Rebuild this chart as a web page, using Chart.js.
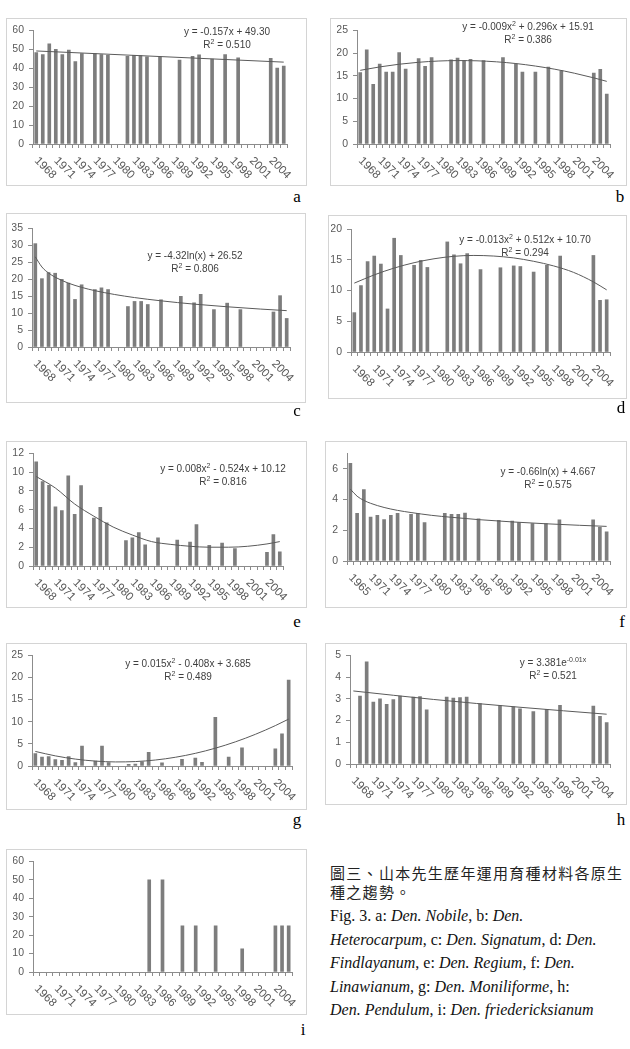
<!DOCTYPE html>
<html>
<head>
<meta charset="utf-8">
<script src="https://cdn.jsdelivr.net/npm/chart.js@4.4.1/dist/chart.umd.min.js"></script>
<style>
body { margin:0; background:#fff; width:630px; height:1049px; position:relative; overflow:hidden; font-family:"Liberation Sans", Arial, sans-serif; }
.box { position:absolute; border:1px solid #d4d4d4; box-sizing:border-box; }
.box canvas { position:absolute; left:0; top:0; }
.eq { position:absolute; font-size:10px; color:#404040; white-space:nowrap; transform:translate(-50%,-50%); }
.eq sup { font-size:7px; }
.lbl { position:absolute; font-family:"Liberation Serif", serif; font-size:17px; transform:translate(-50%,-50%); }
.zh { position:absolute; left:330px; top:863px; font-family:"Noto Sans CJK TC", sans-serif; font-size:15px; letter-spacing:1.3px; line-height:19px; color:#222; white-space:nowrap; }
.en { position:absolute; left:330px; top:904px; font-family:"Liberation Serif", serif; font-size:16px; line-height:23.5px; color:#111; white-space:nowrap; }
</style>
</head>
<body>
<div class="zh">圖三、山本先生歷年運用育種材料各原生<br>種之趨勢。</div>
<div class="en">Fig. 3. a: <i>Den. Nobile</i>, b: <i>Den.</i><br><i>Heterocarpum</i>, c: <i>Den. Signatum</i>, d: <i>Den.</i><br><i>Findlayanum</i>, e: <i>Den. Regium</i>, f: <i>Den.</i><br><i>Linawianum</i>, g: <i>Den. Moniliforme</i>, h:<br><i>Den. Pendulum</i>, i: <i>Den. friedericksianum</i></div>
<script>
// years on the x axis, one bar slot per year
const categories = ['1968','1969','1970','1971','1972','1973','1974','1975','1976','1977',
  '1978','1979','1980','1981','1982','1983','1984','1985','1986','1987',
  '1988','1989','1990','1991','1992','1993','1994','1995','1996','1997',
  '1998','1999','2000','2001','2002','2003','2004','2005','2006'];
// every third year gets a label
const tickLabels = ['1968','1971','1974','1977','1980','1983','1986','1989','1992','1995','1998','2001','2004'];
const tickLabelsF = ['1965','1971','1974','1977','1980','1983','1986','1989','1992','1995','1998','2001','2004'];

// bar values
const nobile = [48.3,47.2,52.8,50.0,47.2,49.5,43.5,47.7,null,47.7,47.2,46.8,null,null,46.2,46.8,46.7,46.0,null,46.0,null,null,44.3,null,46.3,47.0,null,44.8,null,47.2,null,45.5,null,null,null,null,45.2,40.1,41.1];
const heterocarpum = [15.7,20.7,13.1,17.6,15.8,15.8,20.1,16.5,null,18.8,17.1,19.0,null,null,18.5,18.9,18.35,18.6,null,18.35,null,null,19.0,null,17.6,15.8,null,15.8,null,16.9,null,16.1,null,null,null,null,15.6,16.4,11.0];
const signatum = [30.4,20.1,21.9,21.7,19.9,18.8,14.0,18.3,null,16.9,17.4,16.9,null,null,11.9,13.4,13.4,12.5,null,13.9,null,null,14.9,null,13.0,15.5,null,11.0,null,12.9,null,11.0,null,null,null,null,10.3,15.1,8.4];
const findlayanum = [6.4,10.8,14.7,15.6,14.3,7.0,18.5,15.7,null,14.1,14.9,13.75,null,null,17.9,15.8,14.35,16.0,null,13.4,null,null,13.7,null,14.0,13.9,null,13.0,null,14.1,null,15.6,null,null,null,null,15.7,8.4,8.5];
const regium = [11.1,9.0,8.6,6.3,5.9,9.6,5.5,8.55,null,5.1,6.25,4.6,null,null,2.7,3.0,3.55,2.25,null,3.0,null,null,2.75,null,2.55,4.4,null,2.2,null,2.45,null,1.85,null,null,null,null,1.45,3.35,1.5];
const linawianum = [6.35,3.1,4.65,2.85,2.97,2.7,2.97,3.1,null,3.04,3.1,2.5,null,null,3.1,3.04,3.04,3.12,null,2.74,null,null,2.65,null,2.6,2.5,null,2.44,null,2.44,null,2.67,null,null,null,null,2.67,2.19,1.9];
const moniliforme = [2.8,2.0,2.1,1.45,1.3,2.15,0.8,4.5,null,1.1,4.5,0.8,null,null,0.35,0.45,0.95,3.1,null,0.7,null,null,1.5,null,1.8,0.85,null,11.0,null,2.0,null,4.1,null,null,null,null,3.9,7.25,19.4];
const pendulum = [null,3.12,4.7,2.85,3.0,2.75,2.96,3.12,null,3.08,3.1,2.49,null,null,3.08,3.03,3.05,3.08,null,2.78,null,null,2.69,null,2.63,2.54,null,2.41,null,2.51,null,2.7,null,null,null,null,2.66,2.19,1.9];
const friedericksianum = [null,null,null,null,null,null,null,null,null,null,null,null,null,null,null,null,null,50,null,50,null,null,25,null,25,null,null,25,null,null,null,12.5,null,null,null,null,25,25,25];

// trend line values (gaps are joined)
const trendA = [49.1,null,null,null,null,null,null,null,null,null,null,null,null,null,null,null,null,null,null,null,null,null,null,null,null,null,null,null,null,null,null,null,null,null,null,null,null,null,43.2];
const trendB = [16.2,null,null,16.95,null,null,17.54,null,null,17.97,null,null,18.24,null,null,18.34,null,null,18.29,null,null,18.07,null,null,17.69,null,null,17.14,null,null,16.44,null,null,15.57,null,null,14.54,null,13.77];
const trendC = [26.52,23.53,21.77,20.53,null,18.78,null,17.54,null,16.57,null,null,15.44,null,null,14.54,null,null,null,13.58,null,null,null,null,12.61,null,null,null,null,11.83,null,null,null,null,11.16,null,null,null,10.69];
const trendD = [11.2,null,null,12.54,null,null,13.65,null,null,14.52,null,null,15.16,null,null,15.56,null,null,15.7,null,null,15.6,null,null,15.3,null,null,14.75,null,null,14.0,null,null,12.95,null,null,11.4,null,10.1];
const trendE = [9.53,null,null,8.3,null,null,6.6,null,null,5.3,null,null,4.15,null,null,3.3,null,null,2.6,null,null,2.3,null,null,2.1,null,null,2.0,null,null,2.0,null,null,2.1,null,null,2.35,null,2.6];
const trendF = [4.67,4.21,3.94,3.75,null,3.48,null,3.29,null,3.15,null,null,2.97,null,null,2.84,null,null,null,2.69,null,null,null,null,2.54,null,null,null,null,2.42,null,null,null,null,2.32,null,null,null,2.25];
const trendG = [3.29,null,null,2.29,null,null,1.56,null,null,1.11,null,null,0.92,null,null,1.0,null,null,1.35,null,null,1.97,null,null,2.86,null,null,4.02,null,null,5.45,null,null,7.15,null,null,9.12,null,10.59];
const trendH = [3.36,null,null,null,null,null,null,null,null,null,null,null,2.97,null,null,null,null,null,null,null,null,null,null,null,null,2.61,null,null,null,null,null,null,null,null,null,null,null,null,2.29];

const panels = [
  { id:'a', values:nobile, trend:trendA, max:60, step:10, ticks:tickLabels, eq:['y = -0.157x + 49.30','R<sup>2</sup> = 0.510'] },
  { id:'b', values:heterocarpum, trend:trendB, max:25, step:5, ticks:tickLabels, eq:['y = -0.009x<sup>2</sup> + 0.296x + 15.91','R<sup>2</sup> = 0.386'] },
  { id:'c', values:signatum, trend:trendC, max:35, step:5, ticks:tickLabels, eq:['y = -4.32ln(x) + 26.52','R<sup>2</sup> = 0.806'] },
  { id:'d', values:findlayanum, trend:trendD, max:20, step:5, ticks:tickLabels, eq:['y = -0.013x<sup>2</sup> + 0.512x + 10.70','R<sup>2</sup> = 0.294'] },
  { id:'e', values:regium, trend:trendE, max:12, step:2, ticks:tickLabels, eq:['y = 0.008x<sup>2</sup> - 0.524x + 10.12','R<sup>2</sup> = 0.816'] },
  { id:'f', values:linawianum, trend:trendF, max:7, step:1, ticks:tickLabelsF, eq:['y = -0.66ln(x) + 4.667','R<sup>2</sup> = 0.575'] },
  { id:'g', values:moniliforme, trend:trendG, max:25, step:5, ticks:tickLabels, eq:['y = 0.015x<sup>2</sup> - 0.408x + 3.685','R<sup>2</sup> = 0.489'] },
  { id:'h', values:pendulum, trend:trendH, max:5, step:1, ticks:tickLabels, eq:['y = 3.381e<sup>-0.01x</sup>','R<sup>2</sup> = 0.521'] },
  { id:'i', values:friedericksianum, trend:null, max:60, step:10, ticks:tickLabels, eq:null }
];

// page layout: box [left, top, width, height], plot area inside box [l, t, r, b],
// equation centre, panel letter centre
const layout = {
  a: { box:[6,18,301,168],  plot:[27,6,281,126],  eq:[227,31],  letter:[297,197] },
  b: { box:[330,18,297,168], plot:[27,7,280,126], eq:[528,26],  letter:[620,197] },
  c: { box:[6,213,300,190], plot:[26,15,284,134], eq:[195,255], letter:[297,411] },
  d: { box:[328,215,299,184], plot:[23,14,282,137], eq:[525,239], letter:[621,408] },
  e: { box:[6,441,301,167], plot:[27,7,277,125],  eq:[223,468], letter:[297,622] },
  f: { box:[325,441,302,167], plot:[22,10,285,120], eq:[548,471], letter:[622,622] },
  g: { box:[6,643,301,167], plot:[26,7,286,123],  eq:[188,663], letter:[297,820] },
  h: { box:[325,643,302,162], plot:[25,8,285,121], eq:[553,662], letter:[621,820] },
  i: { box:[6,849,301,166], plot:[27,7,286,123],  eq:null,      letter:[303,1030] }
};

const axisGray = '#8c8c8c';
const yW = 20, xH = 5;

function makePanel(p) {
  const g = layout[p.id];
  const [bl, bt, bw, bh] = g.box;
  const [pl, pt, pr, pb] = g.plot;

  const box = document.createElement('div');
  box.className = 'box';
  box.style.left = bl + 'px'; box.style.top = bt + 'px';
  box.style.width = bw + 'px'; box.style.height = bh + 'px';
  const cv = document.createElement('canvas');
  cv.width = bw - 2; cv.height = bh - 2;
  box.appendChild(cv);
  document.body.appendChild(box);

  if (p.eq) {
    p.eq.forEach((line, k) => {
      const d = document.createElement('div');
      d.className = 'eq';
      d.innerHTML = line;
      d.style.left = g.eq[0] + 'px';
      d.style.top = (g.eq[1] + k * 12.5) + 'px';
      document.body.appendChild(d);
    });
  }
  const L = document.createElement('div');
  L.className = 'lbl';
  L.textContent = p.id;
  L.style.left = g.letter[0] + 'px'; L.style.top = g.letter[1] + 'px';
  document.body.appendChild(L);

  const datasets = [{
    data: p.values,
    backgroundColor: '#7d7d7d',
    barThickness: 3,
    order: 1
  }];
  if (p.trend) {
    datasets.push({
      type: 'line',
      data: p.trend,
      borderColor: '#5a5a5a',
      borderWidth: 1,
      pointRadius: 0,
      spanGaps: true,
      cubicInterpolationMode: 'monotone',
      order: 0
    });
  }

  new Chart(cv, {
    type: 'bar',
    data: { labels: categories, datasets: datasets },
    options: {
      responsive: false,
      animation: false,
      devicePixelRatio: 1,
      layout: { padding: { left: pl - 1 - yW, top: pt - 1, right: bw - 1 - pr, bottom: bh - 1 - pb - xH } },
      plugins: { legend: { display: false }, tooltip: { enabled: false } },
      scales: {
        x: {
          grid: { offset: true, drawOnChartArea: false, tickLength: 4, color: axisGray },
          border: { color: axisGray },
          ticks: { display: false },
          afterFit(s) { s.height = xH; }
        },
        y: {
          min: 0, max: p.max,
          ticks: { stepSize: p.step, color: '#595959', padding: 5, font: { size: 10.5, family: 'Liberation Sans' } },
          grid: { drawOnChartArea: false, tickLength: 4, color: axisGray },
          border: { color: axisGray },
          afterFit(s) { s.width = yW; }
        }
      }
    },
    plugins: [{
      id: 'slantYears',
      afterDraw(chart) {
        const ctx = chart.ctx;
        const xs = chart.scales.x;
        const bottom = chart.chartArea.bottom;
        ctx.save();
        ctx.font = '11.5px "Liberation Sans"';
        ctx.fillStyle = '#595959';
        ctx.textAlign = 'left';
        ctx.textBaseline = 'middle';
        p.ticks.forEach((t, k) => {
          const x = xs.getPixelForValue(k * 3);
          ctx.save();
          ctx.translate(x, bottom + 15);
          ctx.rotate(Math.PI / 4);
          ctx.fillText(t, 0, 0);
          ctx.restore();
        });
        ctx.restore();
      }
    }]
  });
}

panels.forEach(makePanel);
</script>
</body>
</html>
